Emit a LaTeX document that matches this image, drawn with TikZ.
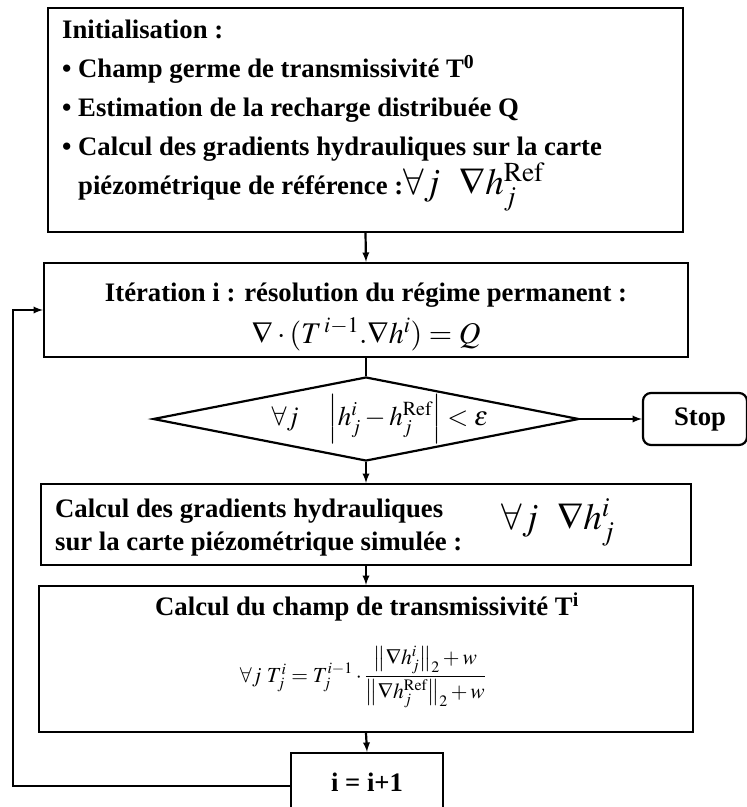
\documentclass[tikz,border=0pt]{standalone}
\usepackage{amsmath}
\usepackage{mathptmx}
\usepackage[no-math]{fontspec}
\setmainfont{Liberation Serif}
\usetikzlibrary{shapes.geometric}

\begin{document}
\begin{tikzpicture}[x=1pt, y=-1pt,
		box/.style={draw, line width=2.2pt, inner sep=0pt},
		conn/.style={line width=2.2pt, -latex},
		txt/.style={inner sep=0pt, font=\bfseries\fontsize{26.7}{33}\selectfont}]
	\useasboundingbox (0,0) rectangle (747,807);
	% Boxes
	\node[box, minimum width=635pt, minimum height=224pt] (init) at (365.5,120) {};
	\node[box, minimum width=644pt, minimum height=94pt] (iter) at (366,310) {};
	\node[box, diamond, minimum width=426pt, minimum height=84pt] (test) at (366,419) {};
	\node[box, rounded corners=8pt, minimum width=104pt, minimum height=52pt] (stop) at (695,419) {};
	\node[box, minimum width=650pt, minimum height=81pt] (grad) at (366,524.5) {};
	\node[box, minimum width=654pt, minimum height=146pt] (champ) at (366,659) {};
	\node[box, minimum width=152pt, minimum height=66pt] (incr) at (367,786) {};
	% Texts
	\node[txt, anchor=north west, align=left, font=\bfseries\fontsize{26.7}{39}\selectfont] (initText) at (62,20)
		{Initialisation :\\
		• Champ germe de transmissivité T\textsuperscript{0}\\
		• Estimation de la recharge distribuée Q\\
		• Calcul des gradients hydrauliques sur la carte\\
		\hspace*{16pt}piézométrique de référence :{\mdseries\fontsize{37}{37}\selectfont$\forall j\ \ \nabla h_j^{\mathrm{Ref}}$}};
	\node[txt, align=center, font=\bfseries\fontsize{26.7}{42}\selectfont] (iterText) at (366,317)
		{Itération i : résolution du régime permanent :\\
		{\mdseries\fontsize{30}{30}\selectfont$\nabla\cdot(T^{\,i-1}.\nabla h^i)=Q$}};
	\node[txt, font=\fontsize{27}{27}\selectfont] (testText) at (380,419)
		{$\forall j\quad \left|h_j^i-h_j^{\mathrm{Ref}}\right|<\varepsilon$};
	\node[txt] (stopText) at (700,419) {Stop};
	\node[txt, anchor=west, align=left] (gradText) at (55,528)
		{Calcul des gradients hydrauliques\\
		sur la carte piézométrique simulée :};
	\node[txt, font=\fontsize{37}{37}\selectfont] (gradMath) at (558,522) {$\forall j\ \ \nabla h_j^i$};
	\node[txt] (champText) at (367,607) {Calcul du champ de transmissivité T\textsuperscript{i}};
	\node[txt, font=\fontsize{21.5}{21.5}\selectfont] (champMath) at (363,677)
		{$\forall j\ T_j^i=T_j^{i-1}\cdot\dfrac{\big\|\nabla h_j^i\big\|_2+w}{\big\|\nabla h_j^{\mathrm{Ref}}\big\|_2+w}$};
	\node[txt] (incrText) at (367,782) {i = i+1};
	% Arrows
	\draw[conn] (init.south) -- (iter.north);
	\draw[line width=2.2pt] (iter.south) -- (test.north);
	\draw[conn] (test.south) -- (grad.north);
	\draw[conn] (grad.south) -- (champ.north);
	\draw[conn] (champ.south) -- (incr.north);
	\draw[conn] (test.east) -- (stop.west);
	\coordinate (back) at (13,786);
	\draw[conn] (incr.west) -- (back) |- (iter.west);
\end{tikzpicture}
\end{document}
